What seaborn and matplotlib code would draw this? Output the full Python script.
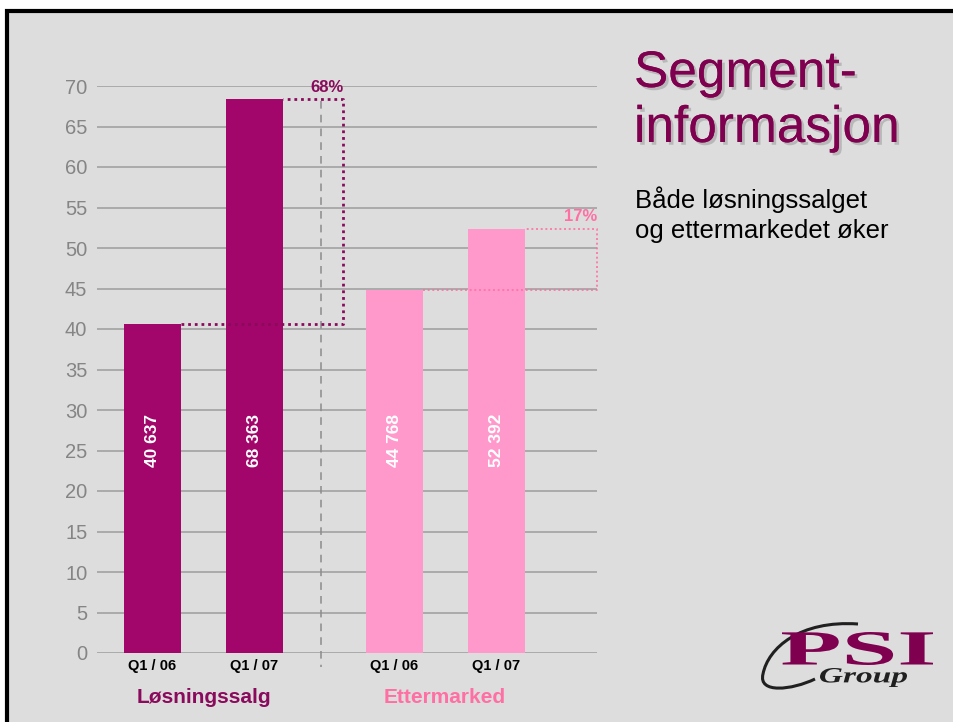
import matplotlib
matplotlib.use("Agg")
import matplotlib.pyplot as plt
import matplotlib.patheffects as pe
from matplotlib.patches import Rectangle, PathPatch
from matplotlib.path import Path
from matplotlib.textpath import TextPath
from matplotlib.font_manager import FontProperties
from matplotlib.transforms import Affine2D, IdentityTransform
import pandas as pd
import seaborn as sns

# data (thousands NOK, axis in millions)
segments = ["Løsningssalg", "Løsningssalg", "Ettermarked", "Ettermarked"]
periods = ["Q1 / 06", "Q1 / 07", "Q1 / 06", "Q1 / 07"]
values = [40.637, 68.363, 44.768, 52.392]
value_labels = ["40 637", "68 363", "44 768", "52 392"]
growth_labels = ["68%", "17%"]
y_ticks = list(range(0, 75, 5))

DARK = "#A3066A"
PINK = "#FF99CC"
DARK_TXT = "#8A0A5C"
PINK_TXT = "#FF6FA3"
GRID = "#A6A6A6"

# layout: bar slots, with an extra gap between the two segments
group_gap = 1.37
pos = [0, 1, 1 + group_gap, 2 + group_gap]

df = pd.DataFrame({"pos": pos, "value": values, "segment": segments})

sns.set_theme(style="white")
plt.rcParams["font.family"] = ["Liberation Sans", "DejaVu Sans"]

fig = plt.figure(figsize=(9.54, 7.22), dpi=100)
fig.patch.set_facecolor("white")
fig.add_artist(Rectangle((7.5 / 954, -0.05), 1.1, (722 - 10.5) / 722 + 0.05,
                         transform=fig.transFigure, facecolor="#DDDDDD",
                         edgecolor="black", lw=3, zorder=-10))

ax = fig.add_axes([97 / 954, (722 - 653) / 722, 500 / 954, 567 / 722])
ax.set_facecolor("none")

sns.barplot(data=df, x="pos", y="value", hue="segment", native_scale=True,
            dodge=False, width=0.56, saturation=1,
            palette={"Løsningssalg": DARK, "Ettermarked": PINK},
            legend=False, ax=ax, zorder=3, linewidth=0, edgecolor="none")

ax.set_xlim(-0.545, 4.36)
ax.set_ylim(0, 70)
ax.set_yticks(y_ticks)
ax.set_yticklabels([str(t) for t in y_ticks], color="#858585", fontsize=14.5)
ax.tick_params(axis="y", length=0, pad=7)
ax.tick_params(axis="x", length=0, pad=4)
ax.set_xticks(pos)
ax.set_xticklabels(periods, fontsize=10.5, fontweight="bold", color="black")
ax.set_xlabel("")
ax.set_ylabel("")
for t in y_ticks:
    ax.axhline(t, color=GRID, lw=1.3, zorder=1)
for s in ax.spines.values():
    s.set_visible(False)

# value labels inside bars
for p, lab in zip(pos, value_labels):
    ax.text(p, 26.2, lab, rotation=90, ha="center", va="center", color="white",
            fontsize=12.5, fontweight="bold", zorder=5)

# growth brackets
half = 0.28
brackets = [(0, 1, 1.87, DARK_TXT, 2.0), (2, 3, 4.36, PINK_TXT, 1.4)]
for (i, j, xr, col, lw), lab in zip(brackets, growth_labels):
    x0 = pos[i] + half
    x1 = pos[j] + half
    ax.plot([x0, xr, xr, x1], [values[i], values[i], values[j], values[j]],
            ls=(0, (1, 1.4)), color=col, lw=lw, zorder=4, clip_on=False,
            alpha=0.85 if i == 2 else 1)
    ax.annotate(lab, (xr, values[j]), xytext=(0, 3), textcoords="offset points",
                ha="right", va="bottom", color=col, fontsize=12, fontweight="bold",
                annotation_clip=False)

# separator between segments
ax.plot([1.652, 1.652], [68.2, -1.7], color="#8C8C8C", lw=1.1, ls=(0, (5, 4)),
        clip_on=False, zorder=2)

# segment names
ax.text((pos[0] + pos[1]) / 2, -5.5, "Løsningssalg", ha="center", va="center",
        color=DARK_TXT, fontsize=15, fontweight="bold", clip_on=False)
ax.text((pos[2] + pos[3]) / 2, -5.5, "Ettermarked", ha="center", va="center",
        color=PINK_TXT, fontsize=15, fontweight="bold", clip_on=False)

# title and subtitle
shadow = [pe.withSimplePatchShadow(offset=(2, -2), shadow_rgbFace="#B8B8B8", alpha=1),
          pe.Normal()]
for k, line in enumerate(["Segment-", "informasjon"]):
    fig.text(634 / 954, 1 - (87 + 55 * k) / 722, line, color="#800050",
             fontsize=37, va="baseline", ha="left", path_effects=shadow)
for k, line in enumerate(["Både løsningssalget", "og ettermarkedet øker"]):
    fig.text(635 / 954, 1 - (208 + 30 * k) / 722, line, color="black",
             fontsize=18.5, va="baseline", ha="left")

# logo
def stretched_text(s, box, prop, color):
    tp = TextPath((0, 0), s, size=100, prop=prop)
    bb = tp.get_extents()
    x0, y0, x1, y1 = box
    sx = (x1 - x0) / bb.width
    sy = (y1 - y0) / bb.height
    tr = Affine2D().translate(-bb.x0, -bb.y0).scale(sx, sy).translate(x0, 722 - y1)
    fig.add_artist(PathPatch(tr.transform_path(tp), facecolor=color, edgecolor="none",
                             transform=IdentityTransform()))

swoosh = Path([(858, 722 - 624), (800, 722 - 620), (768, 722 - 648), (763, 722 - 674),
               (758, 722 - 694), (792, 722 - 690), (815, 722 - 679)],
              [Path.MOVETO, Path.CURVE4, Path.CURVE4, Path.CURVE4,
               Path.CURVE4, Path.CURVE4, Path.CURVE4])
fig.add_artist(PathPatch(swoosh, facecolor="none", edgecolor="#202020", lw=2.2,
                         transform=IdentityTransform()))
stretched_text("PSI", (782, 632, 933, 665),
               FontProperties(family="Liberation Serif", weight="bold"), "#800050")
stretched_text("Group", (820, 668, 907, 687),
               FontProperties(family="Liberation Serif", weight="bold", style="italic"), "#202020")

fig.savefig("out.png", dpi=100, facecolor=fig.get_facecolor())
